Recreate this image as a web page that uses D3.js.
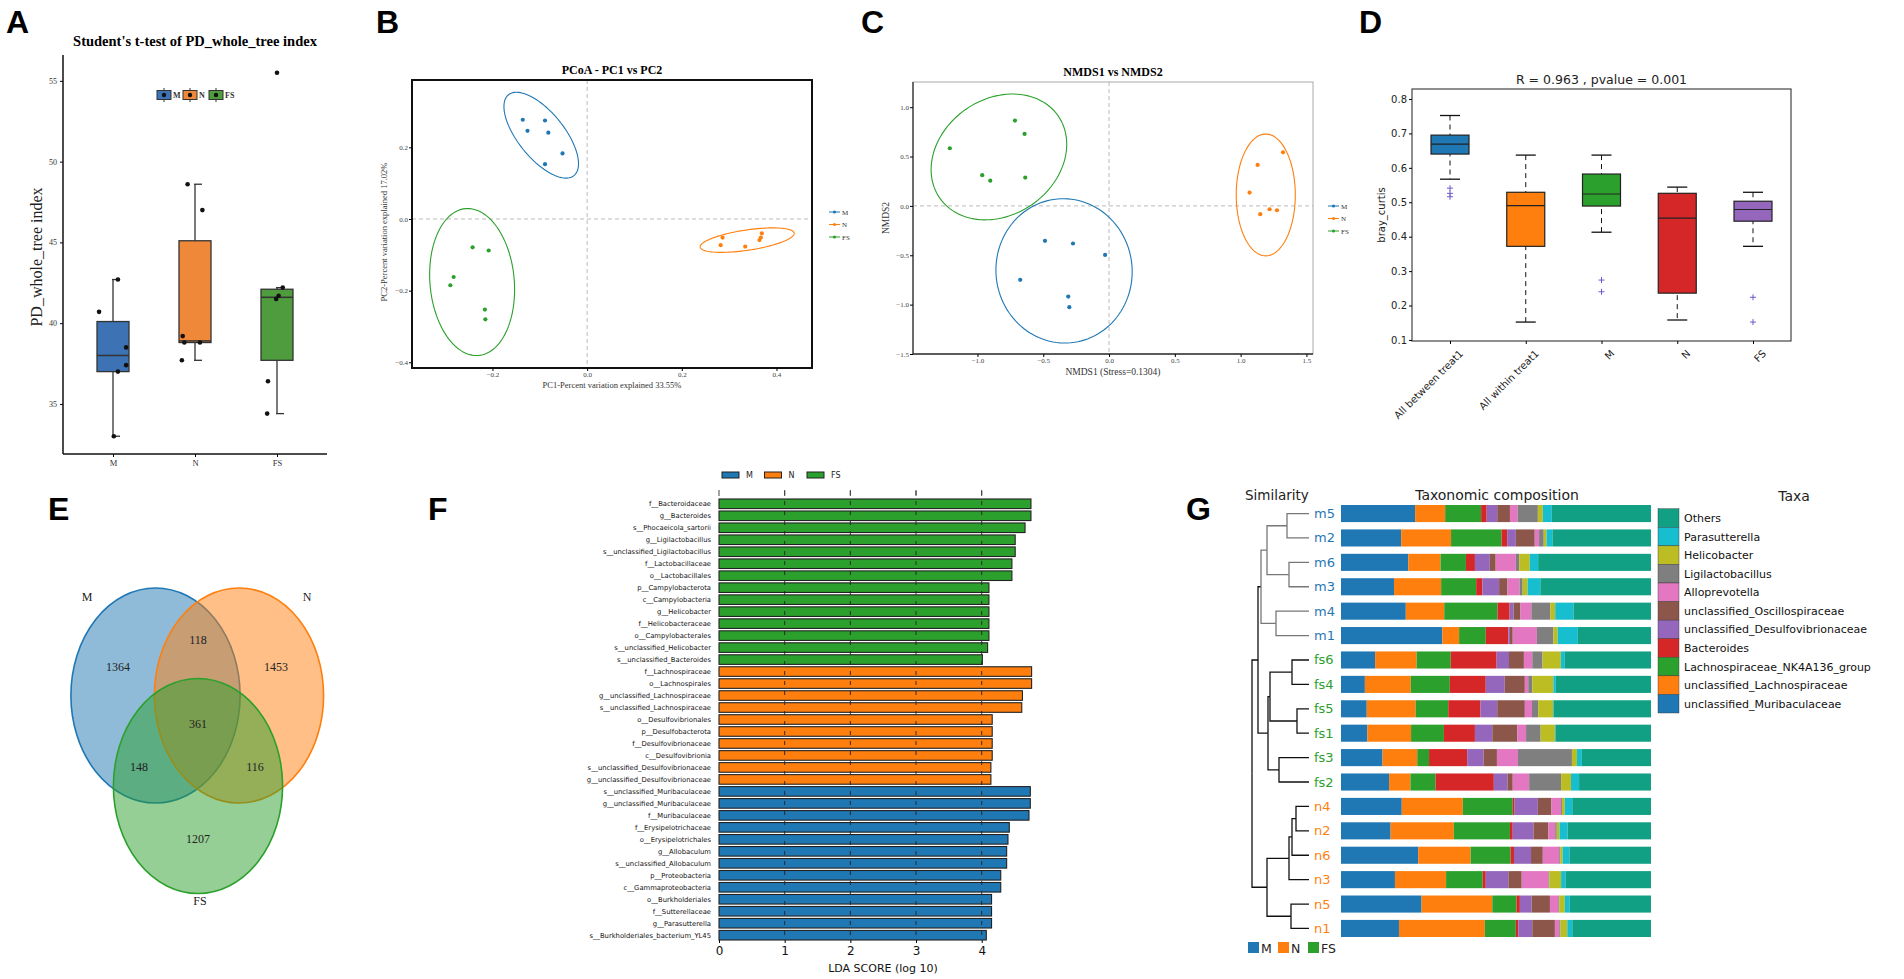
<!DOCTYPE html>
<html>
<head>
<meta charset="utf-8">
<title>Microbiome diversity panels</title>
<script src="https://cdn.jsdelivr.net/npm/d3@7"></script>
<style>
body { margin: 0; background: #fff; }
.serif { font-family: "Liberation Serif", "Times New Roman", serif; }
.sans { font-family: "DejaVu Sans", sans-serif; }
.letter { font-family: "Liberation Sans", Arial, sans-serif; font-weight: bold; font-size: 32px; }
</style>
</head>
<body>
<div id="chart"></div>
<script>
// ---------- data ----------
var groups = ["M", "N", "FS"];
var groupColors = ["#3d72b4", "#f0883a", "#4e9c3d"];
var tabColors = ["#1f77b4", "#ff7f0e", "#2ca02c"];

// A: PD_whole_tree boxplot
var aTicks = [35, 40, 45, 50, 55];
var aQ1 = [37.0, 38.8, 37.7];
var aMedian = [38.0, 38.9, 41.6];
var aQ3 = [40.1, 45.1, 42.1];
var aLow = [33.0, 37.7, 34.4];
var aHigh = [42.7, 48.6, 42.2];
var aPointsM = [40.7, 42.7, 38.5, 37.4, 37.0, 33.0];
var aPointsN = [48.6, 47.0, 39.2, 38.8, 38.8, 37.7];
var aPointsFS = [55.5, 42.2, 41.7, 41.5, 36.4, 34.4];
var aJitterM = [-0.17, 0.06, 0.16, 0.16, 0.06, 0.01];
var aJitterN = [-0.09, 0.09, -0.15, -0.13, 0.06, -0.16];
var aJitterFS = [0.0, 0.07, 0.02, -0.01, -0.11, -0.12];

// B: PCoA
var pcoaM = [[-0.136, 0.277], [-0.089, 0.275], [-0.126, 0.246], [-0.082, 0.241], [-0.052, 0.183], [-0.089, 0.153]];
var pcoaN = [[0.286, -0.052], [0.282, -0.073], [0.334, -0.077], [0.369, -0.040], [0.367, -0.052], [0.364, -0.059]];
var pcoaFS = [[-0.242, -0.079], [-0.208, -0.088], [-0.282, -0.162], [-0.289, -0.185], [-0.216, -0.253], [-0.215, -0.280]];
// ellipse: centre x, centre y, axis A (x,y), axis B (x,y)
var pcoaEllipses = [
  [-0.097, 0.234, 0.069, -0.113, 0.038, 0.040],
  [0.338, -0.059, 0.0993, 0.0196, 0.0032, -0.028],
  [-0.243, -0.176, 0.0137, -0.205, 0.0887, 0.0103]
];
var pcoaXTicks = [-0.2, 0.0, 0.2, 0.4];
var pcoaYTicks = [0.2, 0.0, -0.2, -0.4];

// C: NMDS
var nmdsM = [[-0.487, -0.354], [-0.274, -0.381], [-0.030, -0.496], [-0.675, -0.749], [-0.310, -0.918], [-0.302, -1.026]];
var nmdsN = [[1.322, 0.543], [1.129, 0.415], [1.068, 0.135], [1.220, -0.034], [1.276, -0.044], [1.149, -0.084]];
var nmdsFS = [[-1.21, 0.584], [-0.715, 0.864], [-0.642, 0.729], [-0.964, 0.311], [-0.903, 0.256], [-0.637, 0.287]];
var nmdsEllipses = [
  [-0.342, -0.658, 0.517, -0.051, -0.030, -0.729],
  [1.191, 0.111, 0.0, 0.617, 0.2245, 0.0],
  [-0.837, 0.496, 0.449, 0.418, 0.253, -0.481]
];
var nmdsXTicks = [-1.0, -0.5, 0.0, 0.5, 1.0, 1.5];
var nmdsYTicks = [1.0, 0.5, 0.0, -0.5, -1.0, -1.5];

// D: ANOSIM boxplot
var dCats = ["All between treat1", "All within treat1", "M", "N", "FS"];
var dColors = ["#1f77b4", "#ff7f0e", "#2ca02c", "#d62728", "#9467bd"];
var dQ1 = [0.640, 0.372, 0.489, 0.236, 0.445];
var dMedian = [0.669, 0.490, 0.524, 0.454, 0.479];
var dQ3 = [0.695, 0.529, 0.582, 0.526, 0.503];
var dLow = [0.567, 0.152, 0.413, 0.158, 0.372];
var dHigh = [0.752, 0.637, 0.637, 0.544, 0.529];
var dFliers = [[0.541, 0.526, 0.516], [], [0.274, 0.240], [], [0.224, 0.152]];
var dTicks = [0.1, 0.2, 0.3, 0.4, 0.5, 0.6, 0.7, 0.8];

// E: Venn
var vennSets = ["M", "N", "FS"];
var vennOnlyM = 1364, vennOnlyN = 1453, vennOnlyFS = 1207;
var vennMN = 118, vennMFS = 148, vennNFS = 116, vennAll = 361;

// F: LEfSe
var lefseNames = [
  "f__Bacteroidaceae", "g__Bacteroides", "s__Phocaeicola_sartorii", "g__Ligilactobacillus",
  "s__unclassified_Ligilactobacillus", "f__Lactobacillaceae", "o__Lactobacillales", "p__Campylobacterota",
  "c__Campylobacteria", "g__Helicobacter", "f__Helicobacteraceae", "o__Campylobacterales",
  "s__unclassified_Helicobacter", "s__unclassified_Bacteroides",
  "f__Lachnospiraceae", "o__Lachnospirales", "g__unclassified_Lachnospiraceae", "s__unclassified_Lachnospiraceae",
  "o__Desulfovibrionales", "p__Desulfobacterota", "f__Desulfovibrionaceae", "c__Desulfovibrionia",
  "s__unclassified_Desulfovibrionaceae", "g__unclassified_Desulfovibrionaceae",
  "s__unclassified_Muribaculaceae", "g__unclassified_Muribaculaceae", "f__Muribaculaceae", "f__Erysipelotrichaceae",
  "o__Erysipelotrichales", "g__Allobaculum", "s__unclassified_Allobaculum", "p__Proteobacteria",
  "c__Gammaproteobacteria", "o__Burkholderiales", "f__Sutterellaceae", "g__Parasutterella",
  "s__Burkholderiales_bacterium_YL45"
];
var lefseScores = [
  4.75, 4.75, 4.66, 4.51, 4.51, 4.46, 4.46, 4.11, 4.11, 4.11, 4.11, 4.11, 4.09, 4.01,
  4.76, 4.76, 4.62, 4.61, 4.16, 4.16, 4.16, 4.16, 4.14, 4.14,
  4.74, 4.74, 4.72, 4.42, 4.40, 4.38, 4.38, 4.29, 4.29, 4.15, 4.15, 4.15, 4.07
];
var lefseGroup = [
  "FS", "FS", "FS", "FS", "FS", "FS", "FS", "FS", "FS", "FS", "FS", "FS", "FS", "FS",
  "N", "N", "N", "N", "N", "N", "N", "N", "N", "N",
  "M", "M", "M", "M", "M", "M", "M", "M", "M", "M", "M", "M", "M"
];
var lefseTicks = [0, 1, 2, 3, 4];

// G: taxonomic composition (%), bar order top to bottom
var samples = ["m5", "m2", "m6", "m3", "m4", "m1", "fs6", "fs4", "fs5", "fs1", "fs3", "fs2", "n4", "n2", "n6", "n3", "n5", "n1"];
var taxa = ["unclassified_Muribaculaceae", "unclassified_Lachnospiraceae", "Lachnospiraceae_NK4A136_group", "Bacteroides",
  "unclassified_Desulfovibrionaceae", "unclassified_Oscillospiraceae", "Alloprevotella", "Ligilactobacillus",
  "Helicobacter", "Parasutterella", "Others"];
var taxaColors = ["#1f77b4", "#ff7f0e", "#2ca02c", "#d62728", "#9467bd", "#8c564b", "#e377c2", "#7f7f7f", "#bcbd22", "#17becf", "#12a085"];
var muribaculaceae = [23.9, 19.4, 21.7, 17.1, 20.9, 32.7, 11.0, 7.7, 8.3, 8.5, 13.4, 15.5, 19.6, 16.0, 24.9, 17.4, 26.0, 18.7];
var lachnospiraceae = [9.7, 16.1, 10.4, 15.2, 12.4, 5.4, 13.4, 14.8, 15.8, 14.1, 11.2, 6.9, 19.7, 20.4, 16.9, 16.5, 22.8, 27.7];
var nk4a136 = [11.6, 16.3, 8.2, 11.3, 17.2, 8.6, 11.0, 12.6, 10.5, 10.6, 3.8, 8.1, 16.1, 18.1, 12.9, 11.8, 7.8, 10.0];
var bacteroides = [1.8, 1.8, 2.9, 2.0, 3.9, 7.3, 14.8, 11.6, 10.4, 10.0, 12.3, 18.8, 0.6, 0.9, 1.1, 1.0, 1.1, 0.8];
var desulfovibrionaceae = [3.4, 2.8, 4.8, 5.4, 1.3, 0.5, 4.0, 6.1, 5.4, 5.6, 5.3, 4.4, 7.5, 6.7, 5.5, 7.3, 3.8, 4.5];
var oscillospiraceae = [4.1, 6.1, 1.9, 2.7, 2.2, 0.9, 4.8, 6.5, 8.9, 8.1, 4.3, 1.7, 4.4, 4.8, 3.8, 4.3, 5.9, 7.3];
var alloprevotella = [2.5, 1.4, 6.5, 3.9, 3.5, 7.8, 2.7, 1.1, 2.3, 2.8, 6.8, 5.3, 3.1, 2.2, 5.3, 8.6, 2.7, 1.4];
var ligilactobacillus = [6.5, 1.5, 1.1, 1.0, 6.1, 5.3, 3.3, 1.3, 2.0, 4.7, 17.4, 10.3, 0.3, 0.5, 0.3, 0.3, 0.3, 0.4];
var helicobacter = [1.6, 0.9, 3.4, 1.6, 1.6, 1.4, 5.9, 6.8, 4.8, 4.6, 1.6, 3.2, 0.9, 0.9, 0.8, 3.8, 1.8, 2.2];
var parasutterella = [2.9, 1.9, 2.7, 4.1, 5.9, 6.5, 1.3, 0.8, 0.2, 0.2, 1.6, 2.6, 2.4, 2.6, 2.2, 1.5, 1.6, 1.6];
var others = [32.0, 31.8, 36.4, 35.7, 25.0, 23.6, 27.8, 30.7, 31.4, 30.8, 22.3, 23.2, 25.4, 26.9, 26.3, 27.5, 26.2, 25.4];
// UPGMA-like tree (merge heights)
var tree = {h: 0.57, children: [
  {h: 0.51, children: [
    {h: 0.48, grp: "m", children: [
      {h: 0.42, grp: "m", children: [
        {h: 0.22, grp: "m", children: [{name: "m5"}, {name: "m2"}]},
        {h: 0.20, grp: "m", children: [{name: "m6"}, {name: "m3"}]}]},
      {h: 0.33, grp: "m", children: [{name: "m4"}, {name: "m1"}]}]},
    {h: 0.41, children: [
      {h: 0.39, children: [
        {h: 0.17, children: [{name: "fs6"}, {name: "fs4"}]},
        {h: 0.12, children: [{name: "fs5"}, {name: "fs1"}]}]},
      {h: 0.30, children: [{name: "fs3"}, {name: "fs2"}]}]}]},
  {h: 0.42, children: [
    {h: 0.20, children: [
      {h: 0.17, children: [
        {h: 0.13, children: [{name: "n4"}, {name: "n2"}]},
        {name: "n6"}]},
      {name: "n3"}]},
    {h: 0.18, children: [{name: "n5"}, {name: "n1"}]}]}
]};

// ---------- drawing ----------
var svg = d3.select("#chart").append("svg")
  .attr("width", 1904)
  .attr("height", 979);

function letter(t, x, y) {
  svg.append("text").attr("class", "letter").attr("x", x).attr("y", y).text(t);
}
letter("A", 6, 33);
letter("B", 376, 33);
letter("C", 861, 33);
letter("D", 1359, 33);
letter("E", 48, 520);
letter("F", 428, 520);
letter("G", 1186, 520);

function ellipsePath(e, x, y) {
  var ts = d3.range(0, 2 * Math.PI + 0.01, Math.PI / 60);
  return d3.line()
    .x(function(t) { return x(e[0] + Math.cos(t) * e[2] + Math.sin(t) * e[4]); })
    .y(function(t) { return y(e[1] + Math.cos(t) * e[3] + Math.sin(t) * e[5]); })(ts);
}

// ===== Panel A =====
(function() {
  var g = svg.append("g").attr("class", "serif");
  var x = d3.scalePoint().domain(groups).range([113, 277]);
  var y = d3.scaleLinear().domain([31.9, 56.6]).range([454, 55]);
  var step = x.step();
  var bw = 32;

  g.append("text").attr("x", 195).attr("y", 46).attr("text-anchor", "middle")
    .style("font-weight", "bold").style("font-size", "14.5px")
    .text("Student's t-test of PD_whole_tree index");

  var yAxis = g.append("g").attr("transform", "translate(63,0)")
    .call(d3.axisLeft(y).tickValues(aTicks).tickSize(3).tickFormat(d3.format("d")));
  yAxis.select(".domain").remove();
  yAxis.selectAll("text").style("font-size", "8px").style("font-family", "Liberation Serif").attr("fill", "#333");
  var xAxis = g.append("g").attr("transform", "translate(0,454)")
    .call(d3.axisBottom(x).tickSize(3));
  xAxis.select(".domain").remove();
  xAxis.selectAll("text").style("font-size", "8.5px").style("font-family", "Liberation Serif").attr("fill", "#333");
  g.append("line").attr("x1", 63).attr("x2", 63).attr("y1", 55).attr("y2", 454).attr("stroke", "#111").attr("stroke-width", 1.5);
  g.append("line").attr("x1", 63).attr("x2", 327).attr("y1", 454).attr("y2", 454).attr("stroke", "#111").attr("stroke-width", 1.5);

  g.append("text").attr("transform", "translate(42,257) rotate(-90)").attr("text-anchor", "middle")
    .style("font-size", "16px").attr("fill", "#222").text("PD_whole_tree index");

  var boxes = groups.map(function(k, i) {
    return {k: k, c: groupColors[i], q1: aQ1[i], med: aMedian[i], q3: aQ3[i], lo: aLow[i], hi: aHigh[i]};
  });
  var bg = g.selectAll(".abox").data(boxes).enter().append("g");
  bg.append("line").attr("x1", function(d) { return x(d.k); }).attr("x2", function(d) { return x(d.k); })
    .attr("y1", function(d) { return y(d.lo); }).attr("y2", function(d) { return y(d.hi); })
    .attr("stroke", "#333").attr("stroke-width", 1.3);
  ["lo", "hi"].forEach(function(f) {
    bg.append("line").attr("x1", function(d) { return x(d.k) - 1; }).attr("x2", function(d) { return x(d.k) + 7; })
      .attr("y1", function(d) { return y(d[f]); }).attr("y2", function(d) { return y(d[f]); })
      .attr("stroke", "#333").attr("stroke-width", 1.3);
  });
  bg.append("rect").attr("x", function(d) { return x(d.k) - bw / 2; }).attr("width", bw)
    .attr("y", function(d) { return y(d.q3); }).attr("height", function(d) { return y(d.q1) - y(d.q3); })
    .attr("fill", function(d) { return d.c; }).attr("stroke", "#333").attr("stroke-width", 1.3);
  bg.append("line").attr("x1", function(d) { return x(d.k) - bw / 2; }).attr("x2", function(d) { return x(d.k) + bw / 2; })
    .attr("y1", function(d) { return y(d.med); }).attr("y2", function(d) { return y(d.med); })
    .attr("stroke", "#333").attr("stroke-width", 1.5);

  var pts = [];
  [aPointsM, aPointsN, aPointsFS].forEach(function(arr, gi) {
    var jit = [aJitterM, aJitterN, aJitterFS][gi];
    arr.forEach(function(v, j) { pts.push({k: groups[gi], v: v, j: jit[j]}); });
  });
  g.selectAll(".apt").data(pts).enter().append("circle")
    .attr("cx", function(d) { return x(d.k) + d.j * step; })
    .attr("cy", function(d) { return y(d.v); })
    .attr("r", 2.3).attr("fill", "#111");

  // legend
  var lx = d3.scalePoint().domain(groups).range([157, 209]);
  var lg = g.selectAll(".aleg").data(groups).enter().append("g")
    .attr("transform", function(d) { return "translate(" + lx(d) + ",95)"; });
  lg.append("line").attr("x1", 7).attr("x2", 7).attr("y1", -7).attr("y2", 7).attr("stroke", "#333");
  lg.append("rect").attr("x", 0).attr("y", -4.5).attr("width", 14).attr("height", 9)
    .attr("fill", function(d, i) { return groupColors[i]; }).attr("stroke", "#333");
  lg.append("circle").attr("cx", 7).attr("cy", 0).attr("r", 2.2).attr("fill", "#111");
  lg.append("text").attr("x", 16).attr("y", 3).style("font-size", "8px").style("font-weight", "bold")
    .attr("fill", "#333").text(function(d) { return d; });
})();

// ===== Panel B / C scatter =====
function scatterPanel(opt) {
  var g = svg.append("g").attr("class", "serif");
  var x = d3.scaleLinear().domain(opt.xd).range([opt.l, opt.r]);
  var y = d3.scaleLinear().domain(opt.yd).range([opt.b, opt.t]);
  g.append("text").attr("x", (opt.l + opt.r) / 2).attr("y", opt.t - 6).attr("text-anchor", "middle")
    .style("font-weight", "bold").style("font-size", "12px").text(opt.title);
  g.append("line").attr("x1", x(0)).attr("x2", x(0)).attr("y1", opt.t).attr("y2", opt.b)
    .attr("stroke", "#bbb").attr("stroke-dasharray", "4,3");
  g.append("line").attr("x1", opt.l).attr("x2", opt.r).attr("y1", y(0)).attr("y2", y(0))
    .attr("stroke", "#bbb").attr("stroke-dasharray", "4,3");

  var sets = [opt.pm, opt.pn, opt.pfs];
  opt.ell.forEach(function(e, i) {
    g.append("path").attr("d", ellipsePath(e, x, y)).attr("fill", "none")
      .attr("stroke", tabColors[i]).attr("stroke-width", 1.1);
  });
  sets.forEach(function(s, i) {
    g.selectAll(".p" + i).data(s).enter().append("circle")
      .attr("cx", function(d) { return x(d[0]); }).attr("cy", function(d) { return y(d[1]); })
      .attr("r", 2.1).attr("fill", tabColors[i]);
  });

  g.append("rect").attr("x", opt.l).attr("y", opt.t).attr("width", opt.r - opt.l).attr("height", opt.b - opt.t)
    .attr("fill", "none").attr("stroke", opt.frame).attr("stroke-width", opt.fw);
  if (opt.darkLB) {
    g.append("path").attr("d", "M" + opt.l + "," + opt.t + "V" + opt.b + "H" + opt.r)
      .attr("fill", "none").attr("stroke", "#333").attr("stroke-width", 1.3);
  }
  var xa = g.append("g").attr("transform", "translate(0," + opt.b + ")")
    .call(d3.axisBottom(x).tickValues(opt.xt).tickSize(3).tickPadding(1).tickFormat(d3.format(".1f")));
  xa.select(".domain").remove();
  xa.selectAll("text").style("font-size", "7px").style("font-family", "Liberation Serif").attr("fill", "#444");
  var ya = g.append("g").attr("transform", "translate(" + opt.l + ",0)")
    .call(d3.axisLeft(y).tickValues(opt.yt).tickSize(3).tickPadding(1).tickFormat(d3.format(".1f")));
  ya.select(".domain").remove();
  ya.selectAll("text").style("font-size", "7px").style("font-family", "Liberation Serif").attr("fill", "#444");

  g.append("text").attr("x", (opt.l + opt.r) / 2).attr("y", opt.b + opt.xlo).attr("text-anchor", "middle")
    .style("font-size", opt.xls).attr("fill", "#333").text(opt.xl);
  g.append("text").attr("transform", "translate(" + opt.ylx + "," + ((opt.t + opt.b) / 2 + opt.yly) + ") rotate(-90)")
    .attr("text-anchor", "middle").style("font-size", opt.yls).attr("fill", "#333").text(opt.yl);

  // legend
  var lg = g.selectAll(".leg").data(groups).enter().append("g")
    .attr("transform", function(d, i) { return "translate(" + opt.legX + "," + (opt.legY + i * 12.5) + ")"; });
  lg.append("line").attr("x1", 0).attr("x2", 11).attr("stroke", function(d, i) { return tabColors[i]; });
  lg.append("circle").attr("cx", 5.5).attr("r", 1.6).attr("fill", function(d, i) { return tabColors[i]; });
  lg.append("text").attr("x", 13).attr("y", 2.5).style("font-size", "7px").attr("fill", "#333")
    .text(function(d) { return d; });
}

scatterPanel({
  l: 412, r: 812, t: 80, b: 368, xd: [-0.37, 0.475], yd: [-0.416, 0.388],
  title: "PCoA - PC1 vs PC2", pm: pcoaM, pn: pcoaN, pfs: pcoaFS, ell: pcoaEllipses,
  xt: pcoaXTicks, yt: pcoaYTicks, frame: "#111", fw: 2, darkLB: false,
  xl: "PC1-Percent variation explained 33.55%", xlo: 20, xls: "8.5px",
  yl: "PC2-Percent variation explained 17.02%", ylx: 387, yly: 8, yls: "8.5px",
  legX: 829, legY: 212
});
scatterPanel({
  l: 913, r: 1313, t: 82, b: 354, xd: [-1.49, 1.55], yd: [-1.5, 1.255],
  title: "NMDS1 vs NMDS2", pm: nmdsM, pn: nmdsN, pfs: nmdsFS, ell: nmdsEllipses,
  xt: nmdsXTicks, yt: nmdsYTicks, frame: "#aaa", fw: 1, darkLB: true,
  xl: "NMDS1 (Stress=0.1304)", xlo: 21, xls: "9.5px",
  yl: "NMDS2", ylx: 889, yly: 0, yls: "9.5px",
  legX: 1328, legY: 206
});

// ===== Panel D =====
(function() {
  var g = svg.append("g").attr("class", "sans");
  var l = 1412, r = 1791, t = 89, b = 341;
  var x = d3.scalePoint().domain(dCats).range([1450, 1753]);
  var y = d3.scaleLinear().domain([0.097, 0.829]).range([b, t]);
  var bw = 38;

  g.append("text").attr("x", (l + r) / 2).attr("y", t - 5).attr("text-anchor", "middle")
    .style("font-size", "12.5px").attr("fill", "#222").text("R = 0.963 , pvalue = 0.001");

  var boxes = dCats.map(function(k, i) {
    return {k: k, c: dColors[i], q1: dQ1[i], med: dMedian[i], q3: dQ3[i], lo: dLow[i], hi: dHigh[i], fl: dFliers[i]};
  });
  var bg = g.selectAll(".dbox").data(boxes).enter().append("g");
  bg.append("line").attr("x1", function(d) { return x(d.k); }).attr("x2", function(d) { return x(d.k); })
    .attr("y1", function(d) { return y(d.hi); }).attr("y2", function(d) { return y(d.lo); })
    .attr("stroke", "#111").attr("stroke-dasharray", "5,4");
  ["lo", "hi"].forEach(function(f) {
    bg.append("line").attr("x1", function(d) { return x(d.k) - 10; }).attr("x2", function(d) { return x(d.k) + 10; })
      .attr("y1", function(d) { return y(d[f]); }).attr("y2", function(d) { return y(d[f]); })
      .attr("stroke", "#111").attr("stroke-width", 1.3);
  });
  bg.append("rect").attr("x", function(d) { return x(d.k) - bw / 2; }).attr("width", bw)
    .attr("y", function(d) { return y(d.q3); }).attr("height", function(d) { return y(d.q1) - y(d.q3); })
    .attr("fill", function(d) { return d.c; }).attr("stroke", "#222").attr("stroke-width", 1.2);
  bg.append("line").attr("x1", function(d) { return x(d.k) - bw / 2; }).attr("x2", function(d) { return x(d.k) + bw / 2; })
    .attr("y1", function(d) { return y(d.med); }).attr("y2", function(d) { return y(d.med); })
    .attr("stroke", "#222").attr("stroke-width", 1.2);
  // fliers drawn as "+" markers
  bg.each(function(d) {
    d3.select(this).selectAll(".fl").data(d.fl).enter().append("path")
      .attr("transform", function(v) { return "translate(" + x(d.k) + "," + y(v) + ")"; })
      .attr("d", "M-3,0H3M0,-3V3")
      .attr("stroke", "#6a5acd").attr("stroke-width", 1).attr("fill", "none");
  });

  g.append("rect").attr("x", l).attr("y", t).attr("width", r - l).attr("height", b - t)
    .attr("fill", "none").attr("stroke", "#444").attr("stroke-width", 1.2);
  var ya = g.append("g").attr("transform", "translate(" + l + ",0)")
    .call(d3.axisLeft(y).tickValues(dTicks).tickSize(3).tickPadding(2).tickFormat(d3.format(".1f")));
  ya.select(".domain").remove();
  ya.selectAll("text").style("font-size", "10px").style("font-family", "DejaVu Sans").attr("fill", "#222");
  var xa = g.append("g").attr("transform", "translate(0," + b + ")")
    .call(d3.axisBottom(x).tickSize(3));
  xa.select(".domain").remove();
  xa.selectAll("text").style("font-size", "10px").style("font-family", "DejaVu Sans").attr("fill", "#222")
    .attr("text-anchor", "end").attr("transform", "translate(4,4) rotate(-45)").attr("dy", "0.7em");
  g.append("text").attr("transform", "translate(1385,215) rotate(-90)").attr("text-anchor", "middle")
    .style("font-size", "10px").attr("fill", "#222").text("bray_curtis");
})();

// ===== Panel E: Venn =====
(function() {
  var g = svg.append("g").attr("class", "serif");
  var rx = 84.6, ry = 107.5;
  var cx = d3.scaleOrdinal().domain(vennSets).range([155.5, 239, 198]);
  var cy = d3.scaleOrdinal().domain(vennSets).range([695.5, 695.5, 786]);
  g.selectAll(".vfill").data(vennSets).enter().append("ellipse")
    .attr("cx", function(d) { return cx(d); }).attr("cy", function(d) { return cy(d); })
    .attr("rx", rx).attr("ry", ry)
    .attr("fill", function(d, i) { return tabColors[i]; }).attr("fill-opacity", 0.5)
    .attr("stroke", function(d, i) { return tabColors[i]; }).attr("stroke-width", 1.6);
  var labels = [
    {v: vennOnlyM, x: 118, y: 667}, {v: vennMN, x: 198, y: 640}, {v: vennOnlyN, x: 276, y: 667},
    {v: vennAll, x: 198, y: 724}, {v: vennMFS, x: 139, y: 767}, {v: vennNFS, x: 255, y: 767},
    {v: vennOnlyFS, x: 198, y: 839}
  ];
  g.selectAll(".vnum").data(labels).enter().append("text")
    .attr("x", function(d) { return d.x; }).attr("y", function(d) { return d.y + 4; })
    .attr("text-anchor", "middle").style("font-size", "12px").attr("fill", "#222")
    .text(function(d) { return d.v; });
  var setLab = [{t: "M", x: 87, y: 601}, {t: "N", x: 307, y: 601}, {t: "FS", x: 200, y: 905}];
  g.selectAll(".vlab").data(setLab).enter().append("text")
    .attr("x", function(d) { return d.x; }).attr("y", function(d) { return d.y; })
    .attr("text-anchor", "middle").style("font-size", "12px").attr("fill", "#222")
    .text(function(d) { return d.t; });
})();

// ===== Panel F: LEfSe =====
(function() {
  var g = svg.append("g").attr("class", "sans");
  var x = d3.scaleLinear().domain([0, 4]).range([719, 981.7]);
  var y = d3.scaleBand().domain(lefseNames).range([499, 940]).paddingInner(0.2);
  var col = d3.scaleOrdinal().domain(groups).range(tabColors);

  g.selectAll(".fbar").data(lefseNames).enter().append("rect")
    .attr("x", x(0)).attr("y", function(d) { return y(d); })
    .attr("width", function(d, i) { return x(lefseScores[i]) - x(0); })
    .attr("height", y.bandwidth())
    .attr("fill", function(d, i) { return col(lefseGroup[i]); })
    .attr("stroke", "#222").attr("stroke-width", 1.1);
  g.selectAll(".flab").data(lefseNames).enter().append("text")
    .attr("x", 711).attr("y", function(d) { return y(d) + y.bandwidth() / 2 + 2.5; })
    .attr("text-anchor", "end").style("font-size", "6.8px").attr("fill", "#111")
    .text(function(d) { return d; });
  g.selectAll(".fgrid").data(lefseTicks.slice(1)).enter().append("line")
    .attr("x1", function(d) { return x(d); }).attr("x2", function(d) { return x(d); })
    .attr("y1", 491).attr("y2", 940)
    .attr("stroke", "#222").attr("stroke-width", 0.9).attr("stroke-dasharray", "4,6");
  g.selectAll(".ftop").data(lefseTicks).enter().append("line")
    .attr("x1", function(d) { return x(d); }).attr("x2", function(d) { return x(d); })
    .attr("y1", 490).attr("y2", 496).attr("stroke", "#444");
  var xa = g.append("g").attr("transform", "translate(0,940)")
    .call(d3.axisBottom(x).tickValues(lefseTicks).tickSize(3).tickFormat(d3.format("d")));
  xa.select(".domain").remove();
  xa.selectAll("text").style("font-size", "12px").style("font-family", "DejaVu Sans").attr("fill", "#111");
  g.append("text").attr("x", 883).attr("y", 972).attr("text-anchor", "middle")
    .style("font-size", "11px").attr("fill", "#111").text("LDA SCORE (log 10)");

  var lx = d3.scalePoint().domain(groups).range([722, 807]);
  var lg = g.selectAll(".fleg").data(groups).enter().append("g")
    .attr("transform", function(d) { return "translate(" + lx(d) + ",475)"; });
  lg.append("rect").attr("x", 0).attr("y", -3).attr("width", 17).attr("height", 6)
    .attr("fill", function(d, i) { return tabColors[i]; }).attr("stroke", "#222");
  lg.append("text").attr("x", 24).attr("y", 3).style("font-size", "8px").attr("fill", "#222")
    .text(function(d) { return d; });
})();

// ===== Panel G: dendrogram + stacked bars =====
(function() {
  var g = svg.append("g").attr("class", "sans");
  var y = d3.scaleBand().domain(samples).range([505, 937]).paddingInner(0.3);
  var xb = d3.scaleLinear().domain([0, 100]).range([1341, 1651]);
  var xd = d3.scaleLinear().domain([0, 0.57]).range([1309, 1252]);
  var labelColor = function(s) { return s.indexOf("fs") === 0 ? "#2ca02c" : (s[0] === "m" ? "#1f77b4" : "#ff7f0e"); };

  g.append("text").attr("x", 1245).attr("y", 500).style("font-size", "13.5px").attr("fill", "#222").text("Similarity");
  g.append("text").attr("x", 1497).attr("y", 500).attr("text-anchor", "middle").style("font-size", "14px")
    .attr("fill", "#222").text("Taxonomic composition");
  g.append("text").attr("x", 1794).attr("y", 501).attr("text-anchor", "middle").style("font-size", "14px")
    .attr("fill", "#222").text("Taxa");

  // dendrogram
  var root = d3.hierarchy(tree);
  root.eachAfter(function(n) {
    if (!n.children) {
      n.py = y(n.data.name) + y.bandwidth() / 2;
      n.px = xd(0);
    } else {
      n.py = d3.mean(n.children, function(c) { return c.py; });
      n.px = xd(n.data.h);
    }
  });
  var links = [];
  root.each(function(n) {
    if (n.children) {
      n.children.forEach(function(c) { links.push({s: n, t: c}); });
    }
  });
  g.selectAll(".dlink").data(links).enter().append("path")
    .attr("d", function(d) { return "M" + d.s.px + "," + d.s.py + "V" + d.t.py + "H" + d.t.px; })
    .attr("fill", "none")
    .attr("stroke", function(d) { return d.s.data.grp === "m" ? "#777" : "#111"; })
    .attr("stroke-width", 1.3);

  g.selectAll(".slab").data(samples).enter().append("text")
    .attr("x", 1314).attr("y", function(d) { return y(d) + y.bandwidth() / 2 + 4.5; })
    .style("font-size", "13px").attr("fill", labelColor).text(function(d) { return d; });

  var series = [muribaculaceae, lachnospiraceae, nk4a136, bacteroides, desulfovibrionaceae,
    oscillospiraceae, alloprevotella, ligilactobacillus, helicobacter, parasutterella, others];
  var rows = samples.map(function(s, i) {
    var o = {sample: s};
    taxa.forEach(function(t, k) { o[t] = series[k][i]; });
    return o;
  });
  var stacked = d3.stack().keys(taxa)(rows);
  g.selectAll(".layer").data(stacked).enter().append("g")
    .attr("fill", function(d, i) { return taxaColors[i]; })
    .selectAll("rect").data(function(d) { return d; }).enter().append("rect")
    .attr("x", function(d) { return xb(d[0]); })
    .attr("width", function(d) { return Math.max(0, xb(Math.min(d[1], 100)) - xb(d[0])); })
    .attr("y", function(d) { return y(d.data.sample); })
    .attr("height", y.bandwidth());

  // taxa legend (reverse order, Others on top)
  var legTaxa = taxa.slice().reverse();
  var ly = d3.scaleBand().domain(legTaxa).range([508.7, 713]);
  var lg = g.selectAll(".tleg").data(legTaxa).enter().append("g")
    .attr("transform", function(d) { return "translate(1658," + ly(d) + ")"; });
  lg.append("rect").attr("width", 21).attr("height", ly.bandwidth())
    .attr("fill", function(d) { return taxaColors[taxa.indexOf(d)]; })
    .attr("stroke", "#333").attr("stroke-width", 0.4);
  lg.append("text").attr("x", 26).attr("y", ly.bandwidth() / 2 + 4).style("font-size", "11px")
    .attr("fill", "#111").text(function(d) { return d; });

  // group legend
  var gx = d3.scalePoint().domain(groups).range([1248, 1308]);
  var gl = g.selectAll(".gleg").data(groups).enter().append("g")
    .attr("transform", function(d) { return "translate(" + gx(d) + ",942)"; });
  gl.append("rect").attr("width", 11).attr("height", 11).attr("fill", function(d, i) { return tabColors[i]; });
  gl.append("text").attr("x", 13).attr("y", 10.5).style("font-size", "12.5px").attr("fill", "#222")
    .text(function(d) { return d; });
})();
</script>
</body>
</html>
